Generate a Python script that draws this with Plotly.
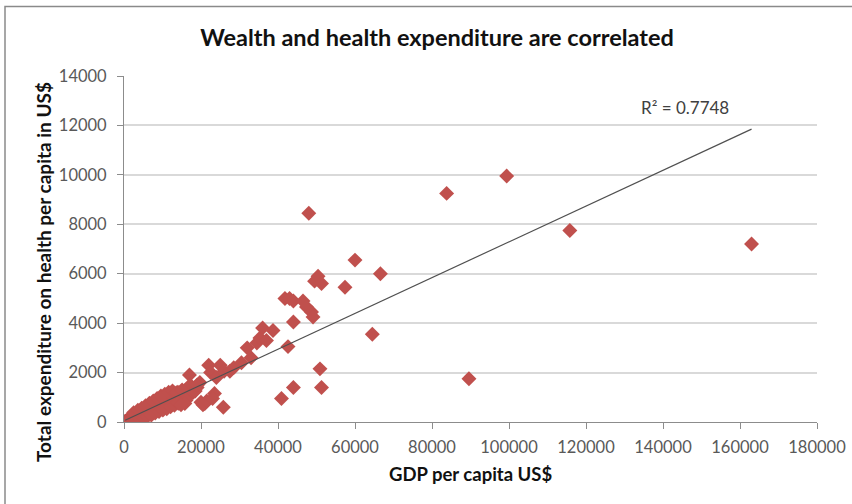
import plotly.graph_objects as go

# GDP per capita (US$) and total health expenditure per capita (US$)
gdp = [
    300, 400, 450, 500, 550, 600, 650, 700, 750, 800, 900, 950, 1000, 1100, 1150, 1200,
    1300, 1400, 1500, 1600, 1700, 1800, 1900, 2000, 2200, 2300, 2400, 2600, 2800, 3000,
    3200, 3400, 3500, 3800, 4000, 4200, 4400, 4500, 4800, 5000, 5200, 5500, 5800, 6000,
    6300, 6500, 6800, 7000, 7300, 7500, 7800, 8000, 8200, 8500, 8800, 9000, 9500, 9800,
    10000, 10500, 11000, 11500, 12000, 12500, 13000, 13500, 14000, 14500, 15000, 15500,
    16000, 16500, 17000, 17200, 18000, 19000, 19700, 20000, 21000, 22000, 22500, 23500,
    24000, 25000, 25800, 26000, 27500, 28500, 30500, 32000, 33000, 34500, 35300, 36000,
    37000, 38700, 40900, 41800, 42600, 43000, 44000, 44000, 44000, 46500, 47400, 48000,
    48700, 49100, 49500, 50400, 50900, 51300, 51300, 57400, 60000, 64500, 66600, 83800,
    89600, 99400, 115800, 163000,
    2500, 3000, 3600, 4100, 4600, 5100, 5600, 6100, 6600, 7100, 7600, 8100, 8600, 9100,
    9600, 10100, 10600, 11100, 11600, 12100, 12600, 13100, 13600, 14100, 15100, 16100,
    20500, 21500, 23000, 18500, 19000, 15800, 14800,
]
health = [
    25, 30, 20, 35, 40, 30, 45, 40, 60, 50, 55, 70, 65, 80, 60, 95,
    90, 110, 100, 130, 90, 150, 120, 160, 140, 210, 180, 230, 170, 260,
    200, 300, 240, 320, 280, 380, 330, 420, 360, 450, 330, 500, 400, 560,
    470, 620, 520, 480, 680, 560, 600, 720, 540, 800, 650, 750, 880, 700,
    820, 760, 950, 830, 1050, 880, 1150, 950, 1200, 1050, 1000, 1150,
    1300, 1000, 1900, 1500, 1200, 1400, 1600, 800, 750, 2300, 2000, 1150,
    1800, 2300, 600, 2050, 2050, 2200, 2400, 3000, 2600, 3200, 3400, 3800,
    3300, 3700, 950, 5000, 3050, 5000, 4900, 4050, 1400, 4900, 4650, 8450,
    4450, 4250, 5700, 5900, 2150, 5600, 1400, 5450, 6550, 3550, 6000, 9250,
    1750, 9950, 7750, 7200,
    380, 80, 480, 130, 560, 180, 660, 230, 760, 280, 850, 360, 950, 420,
    1050, 480, 1120, 540, 1200, 620, 1260, 680, 1180, 760, 1300, 880,
    700, 850, 950, 1250, 1500, 750, 700,
]

# Linear trend line as shown in the chart
trend_slope = 0.0724
trend_intercept = 50
r2_label = "R\u00b2 = 0.7748"

title_text = "Wealth and health expenditure are correlated"
x_title = "GDP per capita US$"
y_title = "Total expenditure on health per capita in US$"

FONT = "Lato, 'Open Sans', sans-serif"
W, H = 852, 504
L, R, T, B = 124, 35, 76, 82

trend_x = [min(gdp), max(gdp)]
trend_y = [trend_slope * v + trend_intercept for v in trend_x]

fig = go.Figure()
fig.add_trace(go.Scatter(
    x=gdp, y=health, mode="markers",
    marker=dict(symbol="diamond", size=11.5, color="#C0504D", line=dict(width=0)),
    showlegend=False, hoverinfo="x+y",
))
fig.add_trace(go.Scatter(
    x=trend_x, y=trend_y, mode="lines",
    line=dict(color="#505050", width=1.2),
    showlegend=False, hoverinfo="skip",
))

pw = W - L - R
ph = H - T - B

def px_x(p):
    return (p - L) / pw

def px_y(p):
    return (H - B - p) / ph

fig.update_layout(
    width=W, height=H,
    margin=dict(l=L, r=R, t=T, b=B, autoexpand=False),
    paper_bgcolor="white", plot_bgcolor="white",
    font=dict(family=FONT, color="#595959", size=16.5),
    title=dict(text="<b>" + title_text + "</b>", x=437 / W, xanchor="center",
               y=1 - 38 / H, yanchor="middle", automargin=False,
               font=dict(family=FONT, size=23.5, color="#111111")),
    xaxis=dict(
        range=[0, 180000], dtick=20000, tick0=0, tickformat="d",
        showgrid=False, zeroline=False, automargin=False,
        showline=True, linecolor="#8c8c8c", linewidth=1,
        ticks="outside", ticklen=6, tickcolor="#8c8c8c",
        ticklabelstandoff=4,
        fixedrange=True,
    ),
    yaxis=dict(
        range=[0, 14000], dtick=2000, tick0=0, tickformat="d",
        showgrid=True, gridcolor="#d9d9d9", gridwidth=1.5, zeroline=False,
        automargin=False,
        showline=True, linecolor="#8c8c8c", linewidth=1,
        ticks="outside", ticklen=6, tickcolor="#8c8c8c",
        ticklabelstandoff=7,
        fixedrange=True,
    ),
    annotations=[
        dict(text=r2_label, xref="paper", yref="paper",
             x=px_x(685), y=px_y(108), xanchor="center", yanchor="middle",
             showarrow=False, font=dict(family=FONT, size=17, color="#404040")),
        dict(text="<b>" + x_title + "</b>", xref="paper", yref="paper",
             x=px_x(471), y=px_y(474), xanchor="center", yanchor="middle",
             showarrow=False, font=dict(family=FONT, size=18.5, color="#111111")),
        dict(text="<b>" + y_title + "</b>", xref="paper", yref="paper",
             x=px_x(43), y=px_y(272), xanchor="center", yanchor="middle",
             textangle=-90, showarrow=False,
             font=dict(family=FONT, size=19, color="#111111")),
    ],
    shapes=[dict(
        type="rect", xref="paper", yref="paper",
        x0=px_x(5), x1=px_x(870), y0=px_y(520), y1=px_y(6.5),
        line=dict(color="#8a8a8a", width=1.5), fillcolor="rgba(0,0,0,0)",
        layer="below",
    )],
)

fig.write_html("out.html", config={"displayModeBar": False},
               post_script="document.body.style.margin='0';")
